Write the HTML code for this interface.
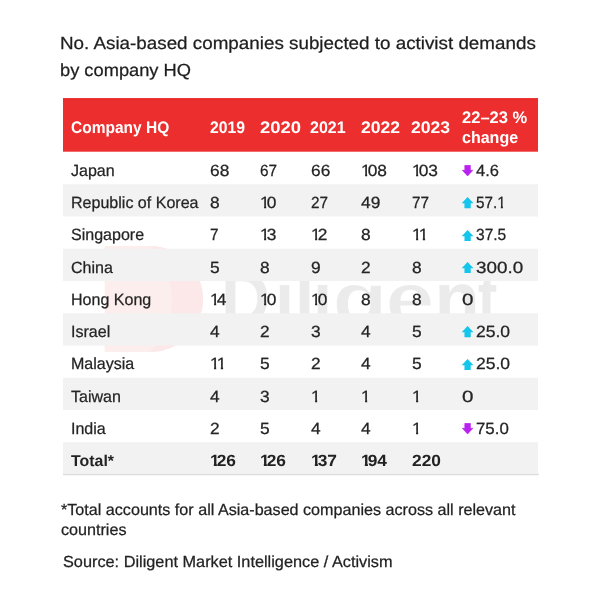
<!DOCTYPE html>
<html><head><meta charset="utf-8"><title>Activist demands</title>
<style>
html,body{margin:0;padding:0;background:#fff;}
body{width:600px;height:600px;position:relative;overflow:hidden;font-family:"Liberation Sans",sans-serif;color:#222;text-rendering:geometricPrecision;}
.t{position:absolute;white-space:nowrap;line-height:20px;transform-origin:0 50%;}
.title{color:#1e1e1e;-webkit-text-stroke:0.25px #1e1e1e;}
.h{color:#fff;font-weight:bold;}
.c{color:#242424;-webkit-text-stroke:0.25px #242424;}
.b{font-weight:bold;color:#222;-webkit-text-stroke:0;}
.ar{position:absolute;width:11.2px;height:11.3px;}
.wm{position:absolute;}
.o{display:inline-block;margin:0 -0.17em 0 0;clip-path:polygon(0 0,0.37em 0,0.37em 100%,0.235em 100%,0.235em 60%,0 60%);}
.b .o{clip-path:polygon(0 0,0.4em 0,0.4em 100%,0.22em 100%,0.22em 60%,0 60%);}
.wmt{font-size:74px;font-weight:bold;color:#ebebeb;line-height:100px;}
.fn{color:#222;-webkit-text-stroke:0.25px #222;}
</style></head><body>

<div class="t title" style="left:60.4px;top:33px;font-size:17.5px;transform:scaleX(1.075);">No. Asia-based companies subjected to activist demands</div>
<div class="t title" style="left:60.4px;top:60px;font-size:17.5px;transform:scaleX(1.044);">by company HQ</div>
<svg class="wm" style="left:100px;top:240px" width="110" height="120" viewBox="100 240 110 120"><path d="M104.7 246 H150 A53 53 0 0 1 150 352 H104.7 Z" fill="#fdeeee"/><path d="M150 246 A53 53 0 0 1 150 352 A75 75 0 0 0 150 246 Z" fill="#fce8e8"/></svg>
<div class="wmt" style="position:absolute;left:0;top:249px;width:600px;height:100px"><span class="t" style="left:220.7px;top:0;line-height:100px;transform:scaleX(0.92)">D</span><span class="t" style="left:275.35px;top:0;line-height:100px;transform:scaleX(0.93)">i</span><span class="t" style="left:294.5px;top:0;line-height:100px;transform:scaleX(0.93)">l</span><span class="t" style="left:312.65px;top:0;line-height:100px;transform:scaleX(0.93)">i</span><span class="t" style="left:331.7px;top:0;line-height:100px;-webkit-text-stroke:1.6px #fff;transform:scaleX(1.243)">g</span><span class="t" style="left:384.9px;top:0;line-height:100px;-webkit-text-stroke:1.6px #fff;transform:scaleX(1.21)">e</span><span class="t" style="left:434.6px;top:0;line-height:100px;transform:scaleX(1.0)">n</span><span class="t" style="left:477.8px;top:0;line-height:100px;transform:scaleX(0.78)">t</span></div>
<svg class="wm" style="left:0;top:0" width="600" height="600" viewBox="0 0 600 600"><rect x="63" y="184.25" width="475" height="32.25" fill="#f2f2f2"/><rect x="63" y="248.75" width="475" height="32.25" fill="#f2f2f2"/><rect x="63" y="313.25" width="475" height="32.25" fill="#f2f2f2"/><rect x="63" y="377.75" width="475" height="32.25" fill="#f2f2f2"/><rect x="63" y="442.25" width="475" height="31.44999999999999" fill="#f2f2f2"/><rect x="63" y="473.7" width="475.8" height="1.6" fill="#dedede"/><rect x="63" y="98.3" width="475" height="53.4" fill="#ed2e2e"/><rect x="63" y="98.3" width="475" height="1.1" fill="#e92322"/></svg>
<div role="table" aria-label="Activist demands by company HQ"><div role="row">
<div class="t h" style="left:71.2px;top:118px;font-size:16.7px;transform:scaleX(0.930);">Company HQ</div>
<div class="t h" style="left:209.7px;top:118px;font-size:16.7px;transform:scaleX(0.944);">2019</div>
<div class="t h" style="left:259.7px;top:118px;font-size:16.7px;transform:scaleX(1.105);">2020</div>
<div class="t h" style="left:310.2px;top:118px;font-size:16.7px;transform:scaleX(0.960);">2021</div>
<div class="t h" style="left:360.7px;top:118px;font-size:16.7px;transform:scaleX(1.053);">2022</div>
<div class="t h" style="left:411.2px;top:118px;font-size:16.7px;transform:scaleX(1.053);">2023</div>
<div class="t h" style="left:462.3px;top:108px;font-size:16.7px;transform:scaleX(0.990);">22–23 %</div>
<div class="t h" style="left:462.3px;top:128px;font-size:16.7px;transform:scaleX(0.960);">change</div>
</div>
<div role="row">
<div class="t c" style="left:70.9px;top:161px;font-size:16.3px;transform:scaleX(0.985);">Japan</div>
<div class="t c" style="left:210.0px;top:161px;font-size:16.2px;transform:scaleX(1.070);">68</div>
<div class="t c" style="left:260.0px;top:161px;font-size:16.2px;transform:scaleX(0.950);">67</div>
<div class="t c" style="left:310.5px;top:161px;font-size:16.2px;transform:scaleX(1.070);">66</div>
<div class="t c" style="left:361.0px;top:161px;font-size:16.2px;transform:scaleX(1.070);"><span class="o">1</span>08</div>
<div class="t c" style="left:411.5px;top:161px;font-size:16.2px;transform:scaleX(1.070);"><span class="o">1</span>03</div>
<svg class="ar" style="left:462px;top:165.00px" viewBox="0 0 11.2 11.3"><path d="M5.6 11 L10.9 5.3 H8.4 V0.3 H2.8 V5.3 H0.3 Z" fill="#b921f0" stroke="#b921f0" stroke-width="0.6" stroke-linejoin="round"/></svg>
<div class="t c" style="left:475.5px;top:161px;font-size:16.2px;transform:scaleX(1.020);">4.6</div>
</div>
<div role="row">
<div class="t c" style="left:70.9px;top:193px;font-size:16.3px;transform:scaleX(0.985);">Republic of Korea</div>
<div class="t c" style="left:210.0px;top:193px;font-size:16.2px;transform:scaleX(1.070);">8</div>
<div class="t c" style="left:260.0px;top:193px;font-size:16.2px;transform:scaleX(1.070);"><span class="o">1</span>0</div>
<div class="t c" style="left:310.5px;top:193px;font-size:16.2px;transform:scaleX(0.950);">27</div>
<div class="t c" style="left:361.0px;top:193px;font-size:16.2px;transform:scaleX(1.070);">49</div>
<div class="t c" style="left:411.5px;top:193px;font-size:16.2px;transform:scaleX(0.950);">77</div>
<svg class="ar" style="left:462px;top:197.25px" viewBox="0 0 11.2 11.3"><path d="M5.6 0.3 L10.9 6 H8.4 V11 H2.8 V6 H0.3 Z" fill="#14c6ec" stroke="#14c6ec" stroke-width="0.6" stroke-linejoin="round"/></svg>
<div class="t c" style="left:475.5px;top:193px;font-size:16.2px;transform:scaleX(0.944);">57.<span class="o">1</span></div>
</div>
<div role="row">
<div class="t c" style="left:70.9px;top:225px;font-size:16.3px;transform:scaleX(0.985);">Singapore</div>
<div class="t c" style="left:210.0px;top:225px;font-size:16.2px;transform:scaleX(0.950);">7</div>
<div class="t c" style="left:260.0px;top:225px;font-size:16.2px;transform:scaleX(1.070);"><span class="o">1</span>3</div>
<div class="t c" style="left:310.5px;top:225px;font-size:16.2px;transform:scaleX(1.070);"><span class="o">1</span>2</div>
<div class="t c" style="left:361.0px;top:225px;font-size:16.2px;transform:scaleX(1.070);">8</div>
<div class="t c" style="left:411.5px;top:225px;font-size:16.2px;transform:scaleX(1.070);"><span class="o">1</span><span class="o">1</span></div>
<svg class="ar" style="left:462px;top:229.50px" viewBox="0 0 11.2 11.3"><path d="M5.6 0.3 L10.9 6 H8.4 V11 H2.8 V6 H0.3 Z" fill="#14c6ec" stroke="#14c6ec" stroke-width="0.6" stroke-linejoin="round"/></svg>
<div class="t c" style="left:475.5px;top:225px;font-size:16.2px;transform:scaleX(0.959);">37.5</div>
</div>
<div role="row">
<div class="t c" style="left:70.9px;top:258px;font-size:16.3px;transform:scaleX(0.985);">China</div>
<div class="t c" style="left:210.0px;top:258px;font-size:16.2px;transform:scaleX(1.070);">5</div>
<div class="t c" style="left:260.0px;top:258px;font-size:16.2px;transform:scaleX(1.070);">8</div>
<div class="t c" style="left:310.5px;top:258px;font-size:16.2px;transform:scaleX(1.070);">9</div>
<div class="t c" style="left:361.0px;top:258px;font-size:16.2px;transform:scaleX(1.070);">2</div>
<div class="t c" style="left:411.5px;top:258px;font-size:16.2px;transform:scaleX(1.070);">8</div>
<svg class="ar" style="left:462px;top:261.75px" viewBox="0 0 11.2 11.3"><path d="M5.6 0.3 L10.9 6 H8.4 V11 H2.8 V6 H0.3 Z" fill="#14c6ec" stroke="#14c6ec" stroke-width="0.6" stroke-linejoin="round"/></svg>
<div class="t c" style="left:475.5px;top:258px;font-size:16.2px;transform:scaleX(1.163);">300.0</div>
</div>
<div role="row">
<div class="t c" style="left:70.9px;top:290px;font-size:16.3px;transform:scaleX(0.985);">Hong Kong</div>
<div class="t c" style="left:210.0px;top:290px;font-size:16.2px;transform:scaleX(1.070);"><span class="o">1</span>4</div>
<div class="t c" style="left:260.0px;top:290px;font-size:16.2px;transform:scaleX(1.070);"><span class="o">1</span>0</div>
<div class="t c" style="left:310.5px;top:290px;font-size:16.2px;transform:scaleX(1.070);"><span class="o">1</span>0</div>
<div class="t c" style="left:361.0px;top:290px;font-size:16.2px;transform:scaleX(1.070);">8</div>
<div class="t c" style="left:411.5px;top:290px;font-size:16.2px;transform:scaleX(1.070);">8</div>
<div class="t c" style="left:461.8px;top:290px;font-size:16.2px;transform:scaleX(1.270);">0</div>
</div>
<div role="row">
<div class="t c" style="left:70.9px;top:322px;font-size:16.3px;transform:scaleX(0.985);">Israel</div>
<div class="t c" style="left:210.0px;top:322px;font-size:16.2px;transform:scaleX(1.070);">4</div>
<div class="t c" style="left:260.0px;top:322px;font-size:16.2px;transform:scaleX(1.070);">2</div>
<div class="t c" style="left:310.5px;top:322px;font-size:16.2px;transform:scaleX(1.070);">3</div>
<div class="t c" style="left:361.0px;top:322px;font-size:16.2px;transform:scaleX(1.070);">4</div>
<div class="t c" style="left:411.5px;top:322px;font-size:16.2px;transform:scaleX(1.070);">5</div>
<svg class="ar" style="left:462px;top:326.25px" viewBox="0 0 11.2 11.3"><path d="M5.6 0.3 L10.9 6 H8.4 V11 H2.8 V6 H0.3 Z" fill="#14c6ec" stroke="#14c6ec" stroke-width="0.6" stroke-linejoin="round"/></svg>
<div class="t c" style="left:475.5px;top:322px;font-size:16.2px;transform:scaleX(1.081);">25.0</div>
</div>
<div role="row">
<div class="t c" style="left:70.9px;top:354px;font-size:16.3px;transform:scaleX(0.985);">Malaysia</div>
<div class="t c" style="left:210.0px;top:354px;font-size:16.2px;transform:scaleX(1.070);"><span class="o">1</span><span class="o">1</span></div>
<div class="t c" style="left:260.0px;top:354px;font-size:16.2px;transform:scaleX(1.070);">5</div>
<div class="t c" style="left:310.5px;top:354px;font-size:16.2px;transform:scaleX(1.070);">2</div>
<div class="t c" style="left:361.0px;top:354px;font-size:16.2px;transform:scaleX(1.070);">4</div>
<div class="t c" style="left:411.5px;top:354px;font-size:16.2px;transform:scaleX(1.070);">5</div>
<svg class="ar" style="left:462px;top:358.50px" viewBox="0 0 11.2 11.3"><path d="M5.6 0.3 L10.9 6 H8.4 V11 H2.8 V6 H0.3 Z" fill="#14c6ec" stroke="#14c6ec" stroke-width="0.6" stroke-linejoin="round"/></svg>
<div class="t c" style="left:475.5px;top:354px;font-size:16.2px;transform:scaleX(1.081);">25.0</div>
</div>
<div role="row">
<div class="t c" style="left:70.9px;top:387px;font-size:16.3px;transform:scaleX(0.985);">Taiwan</div>
<div class="t c" style="left:210.0px;top:387px;font-size:16.2px;transform:scaleX(1.070);">4</div>
<div class="t c" style="left:260.0px;top:387px;font-size:16.2px;transform:scaleX(1.070);">3</div>
<div class="t c" style="left:310.5px;top:387px;font-size:16.2px;transform:scaleX(1.070);"><span class="o">1</span></div>
<div class="t c" style="left:361.0px;top:387px;font-size:16.2px;transform:scaleX(1.070);"><span class="o">1</span></div>
<div class="t c" style="left:411.5px;top:387px;font-size:16.2px;transform:scaleX(1.070);"><span class="o">1</span></div>
<div class="t c" style="left:461.8px;top:387px;font-size:16.2px;transform:scaleX(1.270);">0</div>
</div>
<div role="row">
<div class="t c" style="left:70.9px;top:419px;font-size:16.3px;transform:scaleX(0.985);">India</div>
<div class="t c" style="left:210.0px;top:419px;font-size:16.2px;transform:scaleX(1.070);">2</div>
<div class="t c" style="left:260.0px;top:419px;font-size:16.2px;transform:scaleX(1.070);">5</div>
<div class="t c" style="left:310.5px;top:419px;font-size:16.2px;transform:scaleX(1.070);">4</div>
<div class="t c" style="left:361.0px;top:419px;font-size:16.2px;transform:scaleX(1.070);">4</div>
<div class="t c" style="left:411.5px;top:419px;font-size:16.2px;transform:scaleX(1.070);"><span class="o">1</span></div>
<svg class="ar" style="left:462px;top:423.00px" viewBox="0 0 11.2 11.3"><path d="M5.6 11 L10.9 5.3 H8.4 V0.3 H2.8 V5.3 H0.3 Z" fill="#b921f0" stroke="#b921f0" stroke-width="0.6" stroke-linejoin="round"/></svg>
<div class="t c" style="left:475.5px;top:419px;font-size:16.2px;transform:scaleX(1.040);">75.0</div>
</div>
<div role="row">
<div class="t c b" style="left:70.9px;top:452px;font-size:15.6px;transform:scaleX(1.020);">Total*</div>
<div class="t c b" style="left:210.0px;top:451px;font-size:16.2px;transform:scaleX(1.070);"><span class="o">1</span>26</div>
<div class="t c b" style="left:260.0px;top:451px;font-size:16.2px;transform:scaleX(1.070);"><span class="o">1</span>26</div>
<div class="t c b" style="left:310.5px;top:451px;font-size:16.2px;transform:scaleX(1.070);"><span class="o">1</span>37</div>
<div class="t c b" style="left:361.0px;top:451px;font-size:16.2px;transform:scaleX(1.070);"><span class="o">1</span>94</div>
<div class="t c b" style="left:411.5px;top:451px;font-size:16.2px;transform:scaleX(1.070);">220</div>
</div>
</div>
<div class="t fn" style="left:60.5px;top:501px;font-size:16px;transform:scaleX(1.008);">*Total accounts for all Asia-based companies across all relevant</div>
<div class="t fn" style="left:60.5px;top:521px;font-size:16px;transform:scaleX(1.008);">countries</div>
<div class="t fn" style="left:62.5px;top:553px;font-size:16px;transform:scaleX(1.018);">Source: Diligent Market Intelligence / Activism</div>
</body></html>
